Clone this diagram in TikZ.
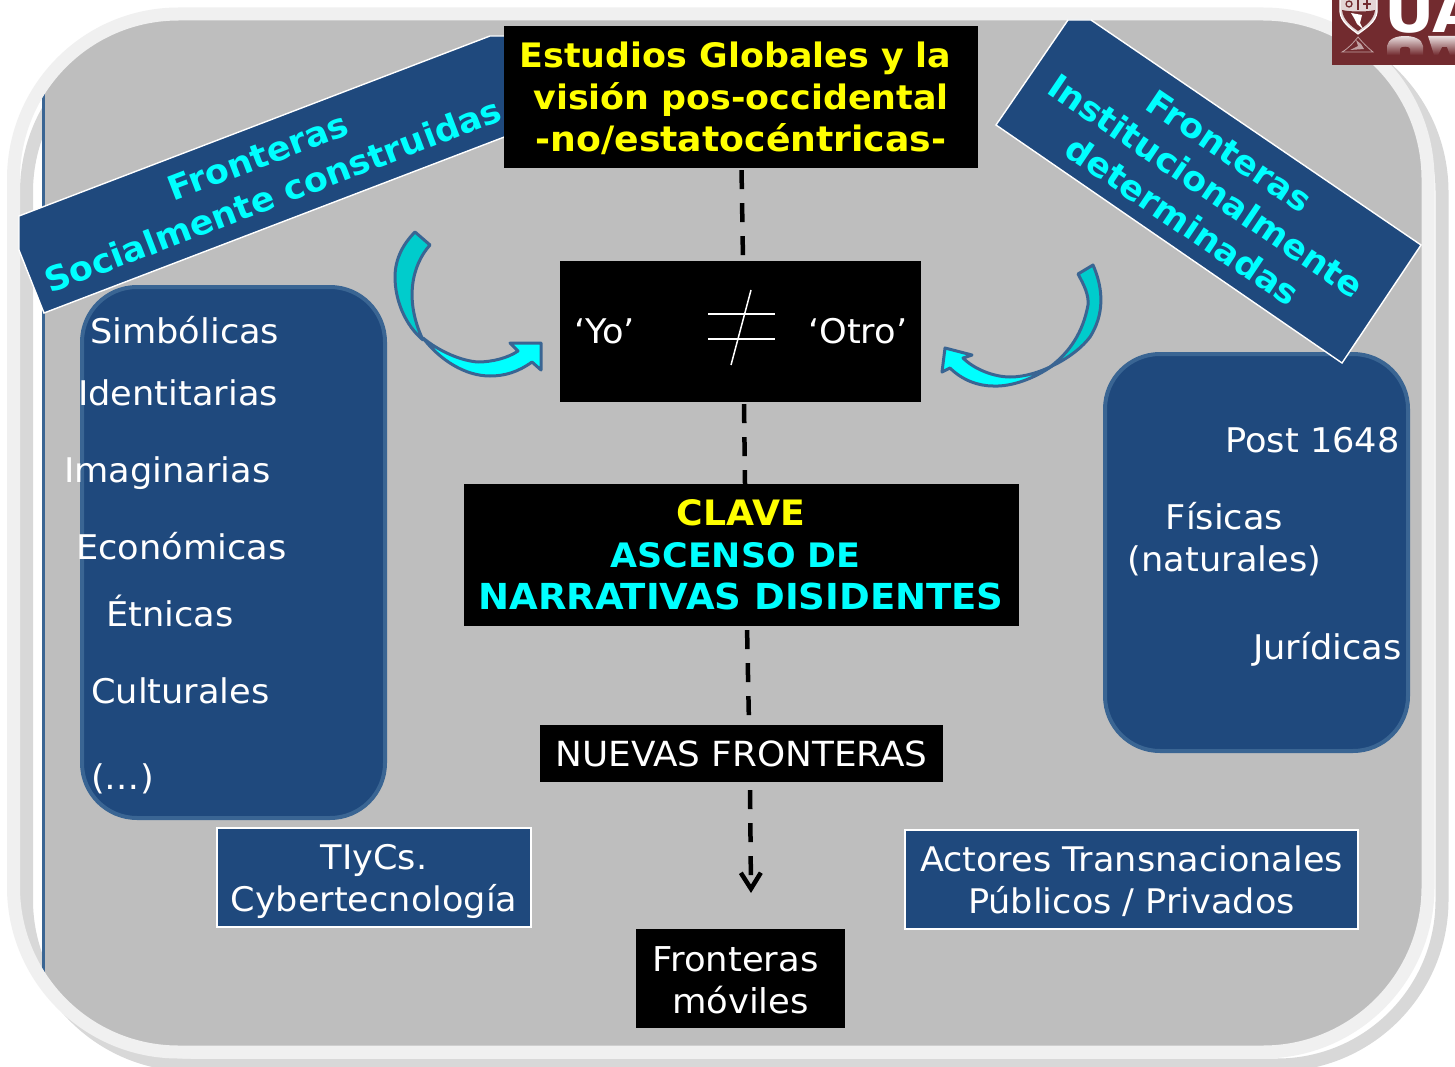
\documentclass[tikz,border=0pt]{standalone}
\usepackage{fontspec}
\setmainfont{DejaVu Sans}[FakeStretch=1.035]
\usetikzlibrary{arrows.meta,calc}
\definecolor{navy}{HTML}{1F497D}
\definecolor{navyedge}{HTML}{3A6593}
\definecolor{panel}{HTML}{BEBEBE}
\definecolor{ring}{HTML}{F0F0F0}
\definecolor{ringshadow}{HTML}{D8D8D8}
\definecolor{maroon}{HTML}{722B2F}
\definecolor{tealtail}{HTML}{00CCCC}
\definecolor{brightcyan}{HTML}{00FFFF}
\definecolor{brightyellow}{HTML}{FFFF00}
\newcommand{\fs}[1]{\fontsize{#1}{42}\selectfont}
\tikzset{
  x=1pt,y=-1pt,
  blackbox/.style={fill=black,text=white,inner sep=0pt,align=center,font=\fs{34.2}},
  boldbox/.style={blackbox,font=\fs{33.7}\bfseries},
  bluebox/.style={fill=navy,draw=white,line width=1.6pt,text=white,inner sep=0pt,align=center,font=\fs{33.9}},
  softbox/.style={fill=navy,draw=navyedge,line width=4pt,rounded corners=55pt},
  banner/.style={fill=navy,draw=white,line width=1.4pt,line join=miter},
  bannertext/.style={text=brightcyan,inner sep=0pt,align=center,font=\fs{33.8}\bfseries},
  item/.style={text=white,inner sep=0pt,anchor=base west,font=\fs{34}},
  dashline/.style={line width=4.5pt,draw=black,dash pattern=on 19pt off 14pt,dash phase=#1},
  dashline/.default=31pt,
  curveedge/.style={draw=navyedge,line width=3pt,line join=round},
  notequal/.style={draw=white,line width=1.5pt}
}
\begin{document}
\begin{tikzpicture}
\useasboundingbox (0,0) rectangle (1455,1067);
\clip (0,0) rectangle (1455,1067);
\fill[white] (0,0) rectangle (1455,1067);
% frame shadow
\draw[ringshadow,line width=13pt,rounded corners=165pt] (26.5,27) rectangle (1442,1065);
% panel
\begin{scope}
\clip (42,0) rectangle (1455,1067);
\fill[navyedge,rounded corners=165pt] (13.5,14) rectangle (1428,1052);
\end{scope}
\begin{scope}
\clip (45,0) rectangle (1455,1067);
\fill[panel,rounded corners=165pt] (13.5,14) rectangle (1428,1052);
\end{scope}
% frame
\draw[ring,line width=13pt,rounded corners=165pt] (13.5,14) rectangle (1428,1052);
% soft boxes
\draw[softbox] (82,287) rectangle (385,818);
\draw[softbox] (1105,354) rectangle (1408,751);
% banners
\draw[banner] (19,216) -- (490,36) -- (520,36) -- (520,131) -- (44,313) -- (19,250) -- cycle;
\draw[banner] (1068,20) -- (1091,20) -- (1421,245) -- (1342,363) -- (996,125) -- cycle;
\node[bannertext,rotate=21] (lefttitle) at (265.5,176) {Fronteras\\Socialmente construidas};
\node[bannertext,rotate=-34] (righttitle) at (1206,186) {Fronteras\\Institucionalmente\\determinadas};
% curved arrows
\path[fill=tealtail,curveedge] (415,232) -- (430,245)
  .. controls (412,265) and (404,300) .. (423,340)
  .. controls (405,325) and (395,300) .. (395,277)
  .. controls (395,258) and (404,243) .. (415,232) -- cycle;
\path[fill=brightcyan,curveedge] (423,338)
  .. controls (440,352) and (462,361) .. (478,362)
  .. controls (492,362) and (508,358) .. (518,351)
  -- (510,343) -- (541,343) -- (541,370) -- (532,362)
  .. controls (518,372) and (505,376) .. (490,376)
  .. controls (465,376) and (440,360) .. (423,338) -- cycle;
\path[fill=tealtail,curveedge] (1078,274) -- (1093,265)
  .. controls (1104,290) and (1104,315) .. (1090,337)
  .. controls (1080,350) and (1065,360) .. (1050,367)
  .. controls (1070,352) and (1083,332) .. (1088,305)
  .. controls (1089,295) and (1084,285) .. (1078,274) -- cycle;
\path[fill=brightcyan,curveedge] (1052,366)
  .. controls (1035,378) and (1012,387) .. (993,386)
  .. controls (978,386) and (962,380) .. (950,368)
  -- (942,372) -- (945,348) -- (972,355) -- (963,358)
  .. controls (975,370) and (995,377) .. (1010,377)
  .. controls (1025,377) and (1040,372) .. (1052,366) -- cycle;
% black boxes
\node[boldbox,minimum width=474pt,minimum height=142pt,text=brightyellow] (title) at (741,97) {\rule{0pt}{28pt}Estudios Globales y la\hspace*{11pt}\\visión pos-occidental\\\fontsize{35}{42}\selectfont -no/estatocéntricas-};
\node[blackbox,minimum width=361pt,minimum height=141pt] (yo) at (740.5,331.5) {};
\node[item] (yotext) at (574,343) {‘Yo’};
\node[item] (otrotext) at (808,343) {‘Otro’};
\draw[notequal] (708,314) -- (775,314);
\draw[notequal] (708,339) -- (775,339);
\draw[notequal] (751,290) -- (731,365);
\node[boldbox,minimum width=555pt,minimum height=142pt] (clave) at (741,555) {\fontsize{35}{42}\selectfont\textcolor{brightyellow}{CLAVE}\\\fontsize{33.7}{42}\selectfont\textcolor{brightcyan}{ASCENSO DE}\rule{11pt}{0pt}\\\fontsize{35.8}{42}\selectfont\textcolor{brightcyan}{NARRATIVAS DISIDENTES}};
\node[blackbox,minimum width=403pt,minimum height=57pt,font=\fs{34.6}] (nuevas) at (741.5,753.5) {NUEVAS FRONTERAS};
\node[blackbox,minimum width=209pt,minimum height=99pt] (moviles) at (740.5,978.5) {\rule{0pt}{28pt}Fronteras\hspace*{10pt}\\móviles};
\coordinate (arrowend) at (751,893);
% dashed connectors
\draw[dashline] ([xshift=0.5pt]title.south) -- ([xshift=2.5pt]yo.north);
\draw[dashline] ([xshift=3.5pt]yo.south) -- ([xshift=4pt]clave.north);
\draw[dashline=29pt] ([xshift=6pt]clave.south) -- ([xshift=7.5pt]nuevas.north);
\draw[dashline=25pt,-{Straight Barb[length=16pt,width=20pt,line width=4.5pt]}] ([xshift=8.5pt]nuevas.south) -- (arrowend);
% blue boxes
\node[bluebox,minimum width=314pt,minimum height=99pt] (tiycs) at (374,877.5) {\rule{0pt}{33pt}TIyCs.\\Cybertecnología};
\node[bluebox,minimum width=453pt,minimum height=99pt] (actores) at (1131.5,879.5) {\rule{0pt}{29pt}Actores Transnacionales\\Públicos / Privados};
% left list
\node[item] (l1) at (90,343) {Simbólicas};
\node[item] (l2) at (78,405) {Identitarias};
\node[item] (l3) at (64,482) {Imaginarias};
\node[item] (l4) at (76,559) {Económicas};
\node[item] (l5) at (106,626) {Étnicas};
\node[item] (l6) at (91,703) {Culturales};
\node[item] (l7) at (91,789) {(…)};
% right list
\node[item] (r1) at (1225,452) {Post 1648};
\node[text=white,inner sep=0pt,align=center,font=\fs{34}] (r2) at (1224.5,539.5) {Físicas\\(naturales)};
\node[item] (r3) at (1253,659) {Jurídicas};
% logo
\begin{scope}
\clip (1332,0) rectangle (1455,65);
\fill[maroon] (1332,0) rectangle (1455,65);
\draw[white,line width=1.2pt,fill=white!80!maroon] (1340,-2) -- (1377,-2) -- (1377,12) .. controls (1376,22) and (1366,28) .. (1358,34) .. controls (1350,28) and (1341,22) .. (1340,12) -- cycle;
\fill[maroon] (1342,10) .. controls (1350,12) and (1368,12) .. (1375,10) .. controls (1374,20) and (1365,26) .. (1358,31) .. controls (1351,26) and (1343,20) .. (1342,10) -- cycle;
\fill[white] (1351,13) -- (1362,15) -- (1360,23) -- (1363,29) -- (1357,24) -- (1354,18) -- cycle;
\draw[maroon,line width=1.3pt] (1349,4) circle (3pt);
\draw[maroon,line width=1.3pt] (1358,-2) -- (1358,10) (1367,0) -- (1367,9) (1363,4) -- (1371,4);
\draw[white!55!maroon,line width=0.8pt] (1342,52) .. controls (1349,48) and (1354,42) .. (1358,37) .. controls (1362,42) and (1368,48) .. (1373,52) -- cycle;
\fill[white!55!maroon] (1350,50) -- (1358,46) -- (1356,40) -- (1361,44) -- (1364,49) -- cycle;
\node[text=white,inner sep=0pt,anchor=base west,font=\fs{60}\bfseries] (ua) at (1384,33) {UA};
% mirrored letters, fading downward
\shade[top color=white!85!maroon,bottom color=maroon] (1387,55) -- (1387,46) .. controls (1388,39) and (1396,36) .. (1405,36) .. controls (1414,36) and (1422,39) .. (1423,46) -- (1423,55) -- cycle;
\fill[maroon] (1400,55) -- (1400,49) .. controls (1400,46) and (1410,46) .. (1410,49) -- (1410,55) -- cycle;
\shade[top color=white!85!maroon,bottom color=maroon] (1428,36) -- (1455,36) -- (1455,55) -- (1450,55) -- (1447,47) -- (1442,47) -- (1438,55) -- (1434,55) -- cycle;
\end{scope}
\end{tikzpicture}
\end{document}
